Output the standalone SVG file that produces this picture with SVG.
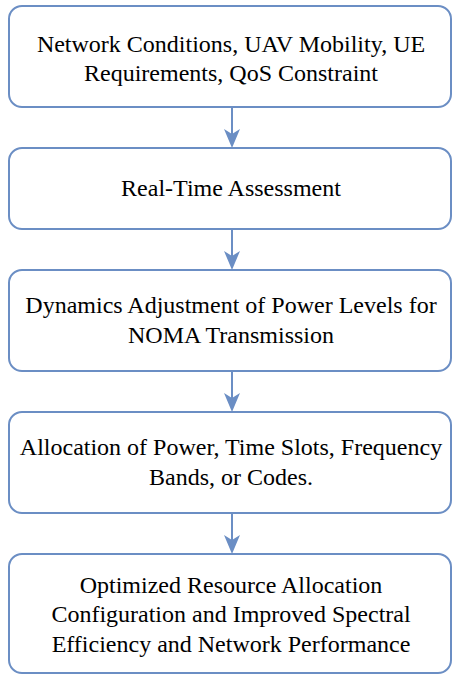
<svg xmlns="http://www.w3.org/2000/svg" width="452" height="675" viewBox="0 0 452 675">
  <style>
    .box { fill: #ffffff; stroke: #6b8ec4; stroke-width: 2; }
    .step-text { font-family: "Liberation Serif", "Times New Roman", serif; font-size: 24px; fill: #000000; text-anchor: middle; }
    .link { stroke: #6b8ec4; stroke-width: 2; fill: none; }
    .head { fill: #6b8ec4; stroke: none; }
  </style>
  <defs>
    <!-- notched arrowhead, tip at the origin pointing down -->
    <path id="arrowhead" class="head" d="M0,0 L-8,-19 L0,-14 L8,-19 Z"/>
  </defs>
  <rect width="452" height="675" fill="#ffffff"/>

  <g id="node-inputs">
    <rect class="box" x="9" y="6" width="442" height="101" rx="13"/>
    <text class="step-text" x="231" y="52">Network Conditions, UAV Mobility, UE</text>
    <text class="step-text" x="231" y="81">Requirements, QoS Constraint</text>
  </g>

  <g id="node-assessment">
    <rect class="box" x="9" y="148" width="442" height="81" rx="13"/>
    <text class="step-text" x="231" y="196">Real-Time Assessment</text>
  </g>

  <g id="node-power">
    <rect class="box" x="9" y="270" width="442" height="101" rx="13"/>
    <text class="step-text" x="231" y="313">Dynamics Adjustment of Power Levels for</text>
    <text class="step-text" x="231" y="343">NOMA Transmission</text>
  </g>

  <g id="node-allocation">
    <rect class="box" x="9" y="412" width="442" height="101" rx="13"/>
    <text class="step-text" x="231" y="455">Allocation of Power, Time Slots, Frequency</text>
    <text class="step-text" x="231" y="485">Bands, or Codes.</text>
  </g>

  <g id="node-result">
    <rect class="box" x="9" y="554" width="442" height="119" rx="13"/>
    <text class="step-text" x="231" y="593">Optimized Resource Allocation</text>
    <text class="step-text" x="231" y="622">Configuration and Improved Spectral</text>
    <text class="step-text" x="231" y="652">Efficiency and Network Performance</text>
  </g>

  <g id="connectors">
    <line class="link" x1="232" y1="107" x2="232" y2="136"/>
    <use href="#arrowhead" x="232" y="148"/>
    <line class="link" x1="232" y1="229" x2="232" y2="258"/>
    <use href="#arrowhead" x="232" y="270"/>
    <line class="link" x1="232" y1="371" x2="232" y2="400"/>
    <use href="#arrowhead" x="232" y="412"/>
    <line class="link" x1="232" y1="513" x2="232" y2="542"/>
    <use href="#arrowhead" x="232" y="554"/>
  </g>
</svg>
